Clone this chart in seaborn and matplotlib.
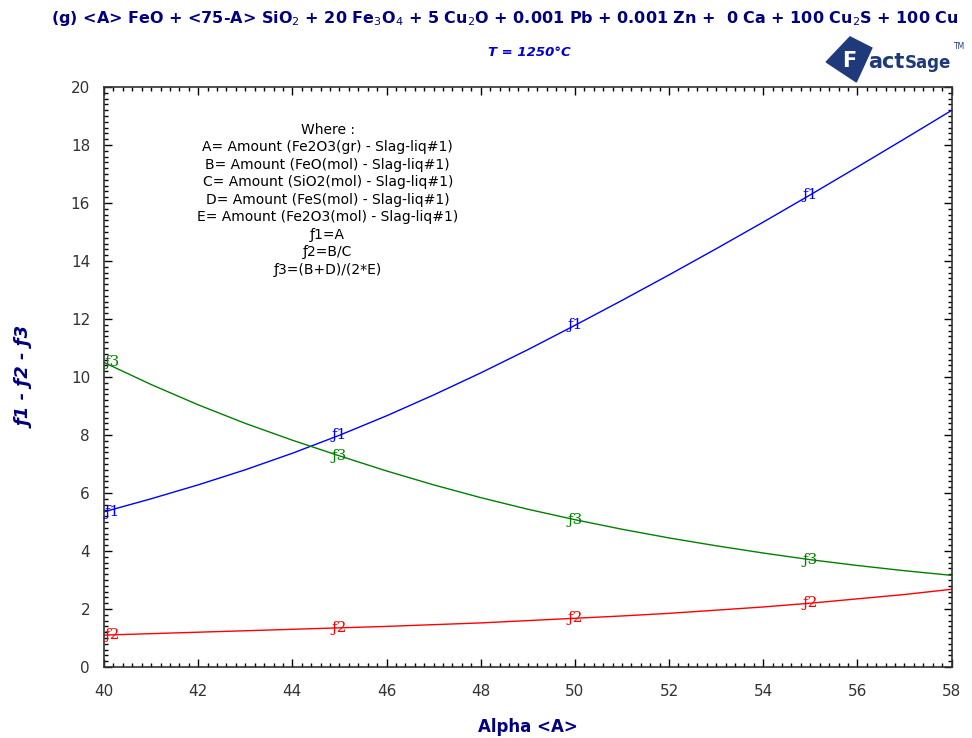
import pandas as pd
import seaborn as sns
import matplotlib.pyplot as plt
from matplotlib.patches import Polygon
from matplotlib.ticker import MultipleLocator

# values
alpha = [40, 41, 42, 43, 44, 45, 46, 47, 48, 49, 50, 51, 52, 53, 54, 55, 56, 57, 58]
f1 = [5.35, 5.8, 6.28, 6.8, 7.37, 7.99, 8.66, 9.38, 10.14, 10.94, 11.78, 12.64, 13.52, 14.42, 15.34, 16.28, 17.24, 18.21, 19.19]
f2 = [1.1, 1.15, 1.2, 1.25, 1.3, 1.35, 1.4, 1.46, 1.52, 1.6, 1.68, 1.76, 1.85, 1.96, 2.07, 2.2, 2.35, 2.5, 2.68]
f3 = [10.5, 9.74, 9.04, 8.4, 7.82, 7.28, 6.76, 6.28, 5.84, 5.44, 5.08, 4.75, 4.45, 4.18, 3.93, 3.7, 3.5, 3.32, 3.16]
series = ["ƒ1", "ƒ2", "ƒ3"]
label_x = [40, 45, 50, 55]

where_lines = ["Where :",
               "A= Amount (Fe2O3(gr) - Slag-liq#1)",
               "B= Amount (FeO(mol) - Slag-liq#1)",
               "C= Amount (SiO2(mol) - Slag-liq#1)",
               "D= Amount (FeS(mol) - Slag-liq#1)",
               "E= Amount (Fe2O3(mol) - Slag-liq#1)",
               "ƒ1=A",
               "ƒ2=B/C",
               "ƒ3=(B+D)/(2*E)"]

df = pd.DataFrame({"alpha": alpha * 3,
                   "value": f1 + f2 + f3,
                   "func": [s for s in series for _ in alpha]})

sns.set_style("ticks")
plt.rcParams['font.family'] = ['DejaVu Sans']
navy = "#000080"
logo = "#1f3a7a"
colors = {"ƒ1": "#0000ff", "ƒ2": "#ff0000", "ƒ3": "#008000"}

fig = plt.figure(figsize=(9.72, 7.38), dpi=100)
ax = fig.add_axes([0.107, 0.0962, 0.872, 0.786])

sns.lineplot(data=df, x="alpha", y="value", hue="func", palette=colors,
             linewidth=1.0, legend=False, ax=ax)

# curve labels on the lines
for s, vals in zip(series, [f1, f2, f3]):
    for xl in label_x:
        yl = vals[alpha.index(xl)]
        ax.text(xl, yl, s, color=colors[s], fontsize=11, family="DejaVu Serif",
                ha="left" if xl == 40 else "center", va="center")

ax.set_xlim(40, 58)
ax.set_ylim(0, 20)
ax.xaxis.set_major_locator(MultipleLocator(2))
ax.xaxis.set_minor_locator(MultipleLocator(0.2))
ax.yaxis.set_major_locator(MultipleLocator(2))
ax.yaxis.set_minor_locator(MultipleLocator(0.2))
ax.tick_params(which="both", direction="in", top=True, right=True, color="black")
ax.tick_params(which="major", length=6, width=1, labelsize=11, labelcolor="#333333")
ax.tick_params(axis="x", which="major", pad=12)
ax.tick_params(axis="y", which="major", pad=10)
ax.tick_params(which="minor", length=3, width=1)
for sp in ax.spines.values():
    sp.set_linewidth(1.2)
    sp.set_color("#333333")

ax.set_xlabel("Alpha <A>", color=navy, fontsize=12, fontweight="bold", labelpad=14)
ax.set_ylabel("ƒ1 - ƒ2 - ƒ3", color=navy, fontsize=13, fontweight="bold",
              style="italic", labelpad=26)

# "Where" block
for i, line in enumerate(where_lines):
    ax.text(0.264, 0.926 - i * 0.0302, line, transform=ax.transAxes,
            ha="center", va="center", fontsize=10, color="black")

fig.text(0.052, 0.975,
         "(g) <A> FeO + <75-A> SiO$_2$ + 20 Fe$_3$O$_4$ + 5 Cu$_2$O + 0.001 Pb + 0.001 Zn +  0 Ca + 100 Cu$_2$S + 100 Cu",
         color=navy, fontsize=11.5, fontweight="bold", ha="left", va="center")
fig.text(0.545, 0.929, "T = 1250°C", color="#0000cc", fontsize=9.5,
         fontweight="bold", style="italic", ha="center", va="center")

# FactSage logo
fig.patches.append(Polygon([[0.850, 0.916], [0.8745, 0.950], [0.897, 0.935], [0.881, 0.889]],
                           closed=True, transform=fig.transFigure, color=logo))
fig.text(0.866, 0.918, "F", color="white", fontsize=15, fontweight="bold",
         ha="left", va="center")
fig.text(0.893, 0.916, "act", color=logo, fontsize=15, fontweight="bold",
         ha="left", va="center")
fig.text(0.931, 0.914, "Sage", color=logo, fontsize=12, fontweight="bold",
         ha="left", va="center")
fig.text(0.981, 0.937, "TM", color=logo, fontsize=5.5, ha="left", va="center")

fig.savefig("out.png", dpi=100)
